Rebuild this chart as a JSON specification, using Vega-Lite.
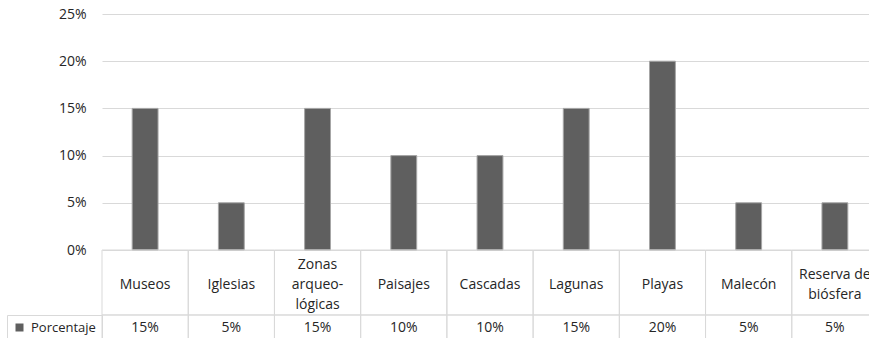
{
  "$schema": "https://vega.github.io/schema/vega-lite/v6.json",
  "background": "white",
  "padding": {"left": 6, "top": 7, "right": 0, "bottom": 0},
  "bounds": "flush",
  "spacing": 0,
  "config": {
    "font": "Open Sans",
    "view": {"stroke": null},
    "text": {"font": "Open Sans"},
    "legend": {"labelFont": "Open Sans"},
    "axis": {"labelFont": "Open Sans"}
  },
  "data": {
    "values": [
      {"cat": "Museos", "label": "Museos", "value": 0.15, "serie": "Porcentaje"},
      {"cat": "Iglesias", "label": "Iglesias", "value": 0.05, "serie": "Porcentaje"},
      {"cat": "Zonas arqueológicas", "label": "Zonas\narqueo-\nlógicas", "value": 0.15, "serie": "Porcentaje"},
      {"cat": "Paisajes", "label": "Paisajes", "value": 0.10, "serie": "Porcentaje"},
      {"cat": "Cascadas", "label": "Cascadas", "value": 0.10, "serie": "Porcentaje"},
      {"cat": "Lagunas", "label": "Lagunas", "value": 0.15, "serie": "Porcentaje"},
      {"cat": "Playas", "label": "Playas", "value": 0.20, "serie": "Porcentaje"},
      {"cat": "Malecón", "label": "Malecón", "value": 0.05, "serie": "Porcentaje"},
      {"cat": "Reserva de biósfera", "label": "Reserva de\nbiósfera", "value": 0.05, "serie": "Porcentaje"}
    ]
  },
  "resolve": {"scale": {"x": "independent", "color": "independent"}, "legend": {"color": "independent"}},
  "vconcat": [
    {
      "width": 776,
      "height": 236,
      "mark": {"type": "bar", "color": "#5f5f5f", "stroke": "#a6a6a6", "strokeWidth": 1},
      "encoding": {
        "x": {"field": "cat", "type": "nominal", "sort": null, "scale": {"paddingInner": 0.7, "paddingOuter": 0.35}, "axis": null},
        "y": {
          "field": "value", "type": "quantitative",
          "scale": {"domain": [0, 0.25]},
          "axis": {
            "values": [0, 0.05, 0.1, 0.15, 0.2, 0.25],
            "format": ".0%",
            "title": null,
            "domain": false,
            "ticks": false,
            "grid": true,
            "gridColor": "#d9d9d9",
            "labelPadding": 16,
            "labelFontSize": 14,
            "labelColor": "#262626"
          }
        }
      }
    },
    {
      "width": 776,
      "height": 65,
      "layer": [
        {
          "mark": {"type": "rect", "fill": "transparent", "stroke": "#d9d9d9", "strokeWidth": 1},
          "encoding": {
            "x": {"field": "cat", "type": "nominal", "sort": null, "scale": {"paddingInner": 0, "paddingOuter": 0}, "axis": null}
          }
        },
        {
          "mark": {"type": "text", "lineBreak": "\n", "lineHeight": 20, "fontSize": 14, "color": "#262626", "baseline": "middle",
                   "dy": {"expr": "2 - (length(split(datum.label, '\\n')) - 1) * 10"}},
          "encoding": {
            "x": {"field": "cat", "type": "nominal", "sort": null, "scale": {"paddingInner": 0, "paddingOuter": 0}, "axis": null},
            "text": {"field": "label"}
          }
        }
      ]
    },
    {
      "width": 776,
      "height": 26,
      "layer": [
        {
          "mark": {"type": "rect", "fill": "transparent", "stroke": "#d9d9d9", "strokeWidth": 1},
          "encoding": {
            "x": {"field": "cat", "type": "nominal", "sort": null, "scale": {"paddingInner": 0, "paddingOuter": 0}, "axis": null}
          }
        },
        {
          "mark": {"type": "text", "fontSize": 14, "color": "#262626", "baseline": "middle"},
          "encoding": {
            "x": {"field": "cat", "type": "nominal", "sort": null, "scale": {"paddingInner": 0, "paddingOuter": 0}, "axis": null},
            "text": {"field": "value", "type": "quantitative", "format": ".0%"}
          }
        },
        {
          "mark": {"type": "point", "shape": "square", "filled": true, "opacity": 0},
          "encoding": {
            "x": {"field": "cat", "type": "nominal", "sort": null, "scale": {"paddingInner": 0, "paddingOuter": 0}, "axis": null},
            "color": {
              "field": "serie", "type": "nominal",
              "scale": {"range": ["#5f5f5f"]},
              "legend": {
                "orient": "left",
                "title": null,
                "offset": 0,
                "strokeColor": "#d9d9d9",
                "padding": 6,
                "symbolType": "square",
                "symbolSize": 64,
                "symbolOpacity": 1,
                "labelFontSize": 13,
                "labelColor": "#262626",
                "labelOffset": 5
              }
            }
          }
        }
      ]
    }
  ]
}
